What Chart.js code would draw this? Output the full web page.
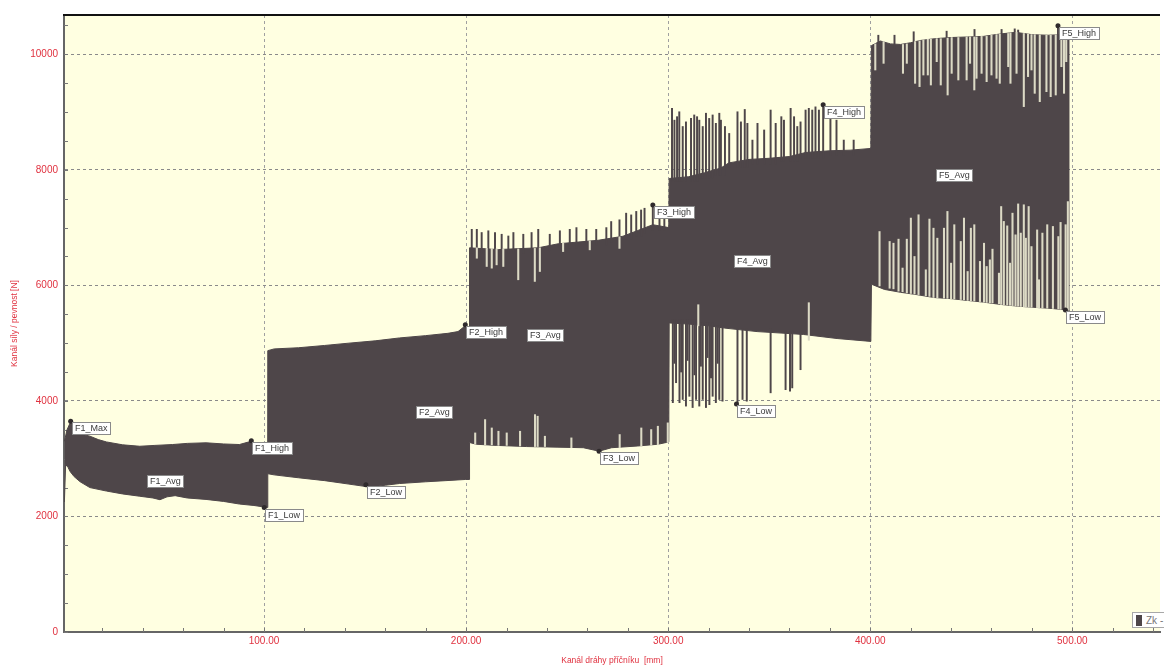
<!DOCTYPE html>
<html>
<head>
<meta charset="utf-8">
<script src="https://cdn.jsdelivr.net/npm/chart.js@4/dist/chart.umd.min.js"></script>
<style>
  html, body { margin: 0; padding: 0; background: #fff; overflow: hidden; }
  #wrap { position: relative; width: 1164px; height: 666px; }
  #legend {
    position: absolute; left: 1132px; top: 612px; height: 14px; padding: 0 3px;
    border: 1px solid #a8a8a8; background: #fff; white-space: nowrap;
    font: 10px 'Liberation Sans', Arial, sans-serif; color: #777;
    display: flex; align-items: center;
  }
  #legend i { display: inline-block; width: 6px; height: 11px; background: #4e4649; margin-right: 4px; }
</style>
</head>
<body>
<div id="wrap">
  <canvas id="chart"></canvas>
  <div id="legend"><i></i>Zk - 1</div>
</div>
<script>
// axis ticks (minor every 20 mm / 500 N, labelled every 100 mm / 2000 N)
const xTicks = [20, 40, 60, 80, 100, 120, 140, 160, 180, 200, 220, 240, 260, 280, 300,
                320, 340, 360, 380, 400, 420, 440, 460, 480, 500, 520, 540];
const yTicks = [0, 500, 1000, 1500, 2000, 2500, 3000, 3500, 4000, 4500, 5000, 5500,
                6000, 6500, 7000, 7500, 8000, 8500, 9000, 9500, 10000, 10500];

// upper and lower edge of the force band  [mm, N]
const upperEdge = [
  [1.2, 3300], [2.5, 3500], [4.3, 3640], [6, 3520], [9, 3430], [13.8, 3390], [18, 3330],
  [22, 3290], [30, 3240], [38.5, 3215], [46, 3230], [54.7, 3245], [62, 3265], [71.3, 3275],
  [80, 3255], [87.8, 3245], [93.5, 3300], [97, 3250], [101.7, 3215],
  [101.85, 4870], [105, 4900], [117, 4920], [130, 4960], [142, 5000], [155, 5040], [167, 5090],
  [180, 5130], [191, 5170], [196, 5200], [199.6, 5300], [201.5, 5250],
  [201.7, 6650], [216, 6620], [235.7, 6650], [245.6, 6720], [265.3, 6780], [277.6, 6850],
  [285, 6950], [292.4, 7050], [300.3, 7000],
  [300.5, 7850], [310, 7880], [318, 7950], [326, 8030], [330, 8120], [340, 8180], [350, 8200],
  [360, 8230], [368, 8300], [380, 8330], [390, 8340], [400.3, 8370],
  [400.6, 10150], [405, 10230], [410, 10180], [415, 10170], [420, 10200], [425, 10240],
  [432, 10270], [440, 10290], [448, 10300], [456, 10310], [464, 10350], [472, 10380],
  [480, 10340], [488, 10330], [495, 10340], [498.7, 10300]
];
const lowerEdge = [
  [1.2, 2250], [1.8, 2900], [3, 2850], [4, 2780], [6, 2690], [9, 2600], [13.8, 2500],
  [22, 2440], [30, 2390], [38.5, 2350], [45, 2320], [48.5, 2290], [52, 2340], [56, 2360],
  [62, 2320], [71.3, 2295], [80, 2260], [87.8, 2215], [95, 2190], [101.7, 2155],
  [101.85, 2740], [105, 2720], [117, 2670], [130, 2620], [142, 2560], [152, 2510], [160, 2540],
  [167, 2570], [180, 2600], [190, 2620], [199.6, 2640], [201.5, 2640],
  [201.7, 3280], [205, 3250], [215, 3230], [230, 3210], [245, 3200], [258, 3190], [265.8, 3130],
  [272, 3190], [285, 3220], [295, 3250], [300.3, 3290],
  [300.5, 5350], [310, 5330], [320, 5300], [328, 5260], [344, 5200], [358, 5170], [367, 5150],
  [383.6, 5080], [400.3, 5030],
  [400.6, 6020], [407, 5930], [415, 5880], [423, 5840], [431.5, 5790], [440, 5770], [448, 5740],
  [456, 5710], [464.5, 5670], [473, 5640], [481, 5620], [490, 5600], [496.6, 5575], [498.7, 5560]
];

// single cycles sticking out of the band  [mm, from N, to N]
const f3Peaks = [
  [202.8, 6550, 6970], [205.3, 6550, 6970], [207.7, 6550, 6915], [211.0, 6550, 6945],
  [214.3, 6550, 6915], [217.6, 6550, 6885], [220.9, 6550, 6855], [223.4, 6550, 6915],
  [228.3, 6550, 6885], [232.4, 6550, 6915], [235.7, 6550, 6970], [241.4, 6600, 6885],
  [246.4, 6650, 6945], [251.3, 6650, 6970], [254.6, 6650, 7000], [259.5, 6700, 6970],
  [264.4, 6700, 6970], [269.4, 6700, 7000], [271.8, 6750, 7105], [275.9, 6750, 7135],
  [279.2, 6800, 7250], [281.7, 6800, 7220], [284.2, 6850, 7280], [286.6, 6850, 7305],
  [288.3, 6900, 7335], [292.4, 6950, 7390], [295.7, 6950, 7220], [298.1, 6950, 7280]
];
const f4Peaks = [
  [301.9, 7800, 9065], [303.1, 7800, 8860], [304.4, 7800, 8920], [305.5, 7800, 9005],
  [307.2, 7800, 8750], [308.8, 7800, 8830], [311.3, 7800, 8890], [312.9, 7800, 8950],
  [314.3, 7800, 8920], [315.4, 7850, 8860], [317.1, 7850, 8750], [318.7, 7850, 8980],
  [320.3, 7850, 8890], [322.0, 7850, 8950], [323.6, 7900, 8805], [325.3, 7900, 8980],
  [326.1, 7900, 8860], [328.1, 7900, 8750], [330.2, 8050, 8630], [334.3, 8050, 9005],
  [336.0, 8050, 8830], [337.9, 8050, 9045], [339.2, 8050, 8805], [341.7, 8100, 8515],
  [344.2, 8100, 8805], [347.5, 8100, 8690], [350.7, 8100, 9035], [353.2, 8100, 8805],
  [356.0, 8150, 8920], [357.3, 8150, 8860], [360.6, 8150, 9065], [362.3, 8150, 8920],
  [363.9, 8150, 8750], [365.5, 8200, 8830], [368.0, 8200, 9035], [369.6, 8200, 9065],
  [371.3, 8200, 9035], [372.9, 8200, 9090], [374.6, 8200, 9035], [376.7, 8200, 9125],
  [380.3, 8250, 8890], [383.3, 8250, 8860], [386.9, 8250, 8515], [391.8, 8250, 8515]
];
const f4Dips = [
  [302.3, 3970, 5400], [303.1, 4650, 5400], [303.9, 4315, 5400], [305.6, 3970, 5400],
  [306.4, 4500, 5400], [307.2, 4025, 5400], [308.8, 3910, 5400], [309.6, 4700, 5400],
  [310.5, 4080, 5400], [312.1, 3885, 5400], [313.0, 4450, 5400], [313.8, 4025, 5400],
  [315.4, 3910, 5350], [316.2, 4600, 5350], [317.1, 4025, 5350], [318.7, 3885, 5350],
  [319.5, 4750, 5350], [320.4, 3935, 5350], [321.2, 4400, 5350], [322.0, 4080, 5350],
  [323.6, 3970, 5300], [324.5, 4650, 5300], [325.3, 4025, 5300], [326.9, 3995, 5300],
  [334.3, 3970, 5250], [336.8, 4025, 5250], [338.9, 3995, 5250], [350.7, 4140, 5250],
  [358.1, 4195, 5200], [360.3, 4170, 5200], [361.4, 4225, 5200], [365.5, 4540, 5200]
];
const f5Peaks = [
  [404.0, 10100, 10330], [412.0, 10100, 10330], [421.5, 10150, 10390], [437.8, 10200, 10400],
  [451.6, 10200, 10430], [465.0, 10250, 10430], [471.5, 10250, 10440], [473.2, 10250, 10420],
  [492.9, 10250, 10490]
];

// cycles that stay inside the band (light gaps)  [mm, from N, to N]
const f3Gaps = [
  [205.3, 6470, 6650], [210.2, 6327, 6640], [212.7, 6298, 6640], [215.1, 6355, 6630],
  [218.4, 6327, 6630], [225.8, 6097, 6630], [234.0, 6068, 6640], [236.5, 6240, 6650],
  [248.0, 6585, 6730], [261.2, 6615, 6770], [275.9, 6640, 6840],
  [204.5, 3250, 3446], [209.4, 3240, 3677], [212.7, 3240, 3532], [216.0, 3230, 3475],
  [220.1, 3230, 3446], [226.7, 3220, 3475], [234.1, 3210, 3763], [235.4, 3210, 3735],
  [239.0, 3210, 3389], [252.1, 3190, 3360], [276.0, 3190, 3418], [286.7, 3210, 3532],
  [291.6, 3230, 3504], [294.9, 3240, 3562], [299.8, 3280, 3620]
];
const f4Gaps = [[314.9, 5300, 5665], [369.6, 5050, 5700]];
const f5Gaps = [
  [402.5, 9728, 10180], [406.6, 9843, 10220], [416.2, 9670, 10170], [418.1, 9843, 10180],
  [422.2, 9497, 10220], [424.4, 9440, 10230], [426.3, 9641, 10250], [428.5, 9641, 10260],
  [430.0, 9468, 10260], [432.9, 9872, 10270], [434.9, 9468, 10270], [438.3, 9295, 10280],
  [440.3, 9670, 10290], [443.6, 9555, 10290], [447.7, 9555, 10300], [449.4, 9843, 10300],
  [451.5, 9382, 10300], [452.6, 9584, 10300], [455.1, 9670, 10310], [457.6, 9526, 10310],
  [460.0, 9641, 10330], [462.5, 9584, 10340], [464.1, 9497, 10350], [468.3, 9785, 10360],
  [469.4, 9497, 10370], [472.4, 9670, 10380], [476.0, 9094, 10360], [478.1, 9613, 10350],
  [479.8, 9728, 10340], [481.4, 9324, 10340], [483.9, 9180, 10335], [487.2, 9353, 10330],
  [489.3, 9266, 10330], [491.8, 9295, 10335], [494.6, 9785, 10340], [495.9, 9324, 10335],
  [497.0, 9872, 10320],
  [404.6, 5990, 6932], [409.6, 5950, 6760], [411.5, 5940, 6730], [414.0, 5900, 6800],
  [416.0, 5890, 6300], [418.1, 5870, 6800], [420.1, 5860, 7165], [421.9, 5850, 6500],
  [423.9, 5840, 7222], [427.5, 5820, 6270], [429.3, 5810, 7148], [431.3, 5790, 6990],
  [433.2, 5785, 6817], [436.5, 5780, 6990], [438.2, 5775, 7280], [440.0, 5770, 6385],
  [441.6, 5765, 7050], [444.8, 5755, 6760], [446.4, 5750, 7165], [448.2, 5740, 6240],
  [449.8, 5735, 6990], [451.5, 5730, 7050], [454.3, 5720, 6415], [456.3, 5710, 6730],
  [457.6, 5705, 6327], [459.2, 5700, 6442], [460.5, 5695, 6627], [463.7, 5680, 6212],
  [464.8, 5670, 7365], [466.1, 5665, 7107], [467.8, 5660, 7030], [469.2, 5655, 6385],
  [470.4, 5650, 7250], [471.9, 5645, 6875], [473.2, 5640, 7410], [474.5, 5635, 6905],
  [476.0, 5630, 7395], [477.0, 5628, 6817], [478.4, 5625, 7365], [479.8, 5622, 6672],
  [482.6, 5615, 6960], [483.5, 5612, 6097], [485.2, 5608, 6905], [487.6, 5605, 7050],
  [490.4, 5600, 7020], [493.1, 5590, 6845], [494.2, 5585, 7090], [496.7, 5575, 7050],
  [497.8, 5570, 7450]
];

// evaluation markers
const markerNames = ['F1_Max', 'F1_Avg', 'F1_High', 'F1_Low',
                     'F2_High', 'F2_Avg', 'F2_Low',
                     'F3_High', 'F3_Avg', 'F3_Low',
                     'F4_High', 'F4_Avg', 'F4_Low',
                     'F5_High', 'F5_Avg', 'F5_Low'];
const markerX = [4.3, 50.8, 93.7, 100.1, 199.6, 184, 150.4, 292.4, 239.2, 265.8,
                 376.7, 341.7, 333.8, 492.9, 441.6, 496.6];
const markerY = [3650, 2620, 3310, 2155, 5320, 3810, 2550, 7393, 5140, 3129,
                 9127, 6425, 3948, 10492, 7917, 5575];

const dark = '#4e4649';
const light = '#dcdac5';
const red = '#e0313f';
const tickFont = { family: "'Liberation Sans', Arial, sans-serif", size: 10 };
const titleFont = { family: "'Liberation Sans', Arial, sans-serif", size: 8.5 };

const toXY = a => a.map(p => ({ x: p[0], y: p[1] }));
const toBar = a => a.map(p => ({ x: p[0], y: [p[1], p[2]] }));
const dots = markerNames
  .map((n, i) => ({ n, x: markerX[i], y: markerY[i] }))
  .filter(m => !m.n.endsWith('_Avg'))
  .map(m => ({ x: m.x, y: m.y }));

const frame = {
  id: 'frame',
  beforeDraw(chart) {
    const { ctx, chartArea: a } = chart;
    ctx.save();
    ctx.fillStyle = '#ffffe1';
    ctx.fillRect(a.left, a.top, a.right - a.left, a.bottom - a.top);
    ctx.restore();
  },
  beforeDatasetsDraw(chart) {
    const { ctx, chartArea: a, scales: { x, y } } = chart;
    ctx.save();
    ctx.strokeStyle = '#777';
    ctx.lineWidth = 1;
    ctx.beginPath();
    yTicks.forEach(v => {
      const py = Math.round(y.getPixelForValue(v)) + 0.5;
      ctx.moveTo(a.left, py);
      ctx.lineTo(a.left + 4, py);
    });
    xTicks.forEach(v => {
      const px = Math.round(x.getPixelForValue(v)) + 0.5;
      ctx.moveTo(px, a.bottom);
      ctx.lineTo(px, a.bottom - 4);
    });
    ctx.stroke();
    ctx.restore();
  },
  afterDatasetsDraw(chart) {
    const { ctx, scales: { x, y } } = chart;
    ctx.save();
    ctx.font = "9px 'Liberation Sans', Arial, sans-serif";
    ctx.textBaseline = 'middle';
    markerNames.forEach((name, i) => {
      const px = x.getPixelForValue(markerX[i]);
      const py = y.getPixelForValue(markerY[i]);
      const w = Math.ceil(ctx.measureText(name).width) + 5;
      const h = 12;
      const avg = name.endsWith('_Avg');
      const left = Math.round(avg ? px - w / 2 : px + 1) + 0.5;
      const top = Math.round(avg ? py - h / 2 : py + 1) + 0.5;
      ctx.fillStyle = '#fff';
      ctx.fillRect(left, top, w, h);
      ctx.strokeStyle = '#8a8a8a';
      ctx.lineWidth = 1;
      ctx.strokeRect(left, top, w, h);
      ctx.fillStyle = '#3a3a3a';
      ctx.fillText(name, left + 2.5, top + h / 2 + 0.5);
    });
    ctx.restore();
  },
  afterDraw(chart) {
    const { ctx, chartArea: a } = chart;
    ctx.save();
    ctx.strokeStyle = '#111';
    ctx.lineWidth = 2;
    ctx.beginPath();
    ctx.moveTo(a.left - 1, a.top);
    ctx.lineTo(a.right, a.top);
    ctx.stroke();
    ctx.restore();
  }
};

new Chart(document.getElementById('chart'), {
  type: 'line',
  data: {
    datasets: [
      { label: 'upper', data: toXY(upperEdge), borderColor: dark, borderWidth: 1,
        pointRadius: 0, fill: false, tension: 0, order: 6 },
      { label: 'lower', data: toXY(lowerEdge), borderColor: dark, backgroundColor: dark,
        borderWidth: 1, pointRadius: 0, fill: '-1', tension: 0, order: 5 },
      { type: 'bar', label: 'peaks', data: toBar([...f3Peaks, ...f4Peaks, ...f4Dips, ...f5Peaks]),
        backgroundColor: dark, barThickness: 1.3, grouped: false, order: 4 },
      { type: 'bar', label: 'gaps', data: toBar([...f3Gaps, ...f4Gaps, ...f5Gaps]),
        backgroundColor: light, barThickness: 1.4, grouped: false, order: 3 },
      { type: 'scatter', label: 'markers', data: dots, pointRadius: 2.5,
        pointBackgroundColor: '#2f2a2c', pointBorderWidth: 0, order: 1 }
    ]
  },
  options: {
    responsive: true,
    maintainAspectRatio: false,
    animation: false,
    events: [],
    layout: { padding: { top: 15, right: 0, bottom: 0, left: 0 } },
    plugins: { legend: { display: false }, tooltip: { enabled: false } },
    scales: {
      x: {
        type: 'linear', min: 1, max: 543.4, offset: false,
        afterBuildTicks: s => { s.ticks = xTicks.map(v => ({ value: v })); },
        afterFit: s => { s.height = 34; },
        ticks: {
          autoSkip: false, maxRotation: 0, padding: 3, color: red, font: tickFont,
          callback: v => (v % 100 === 0 ? v.toFixed(2) : '')
        },
        grid: {
          offset: false, drawTicks: false, lineWidth: 1,
          color: c => (c.tick && c.tick.value % 100 === 0 ? '#a0a0a0' : 'rgba(0,0,0,0)')
        },
        border: { display: true, color: '#666', width: 2, dash: [3, 3] },
        title: { display: true, text: 'Kanál dráhy příčníku  [mm]', color: red,
                 font: titleFont, padding: { top: 0, bottom: 0 } }
      },
      y: {
        type: 'linear', min: 0, max: 10680,
        afterBuildTicks: s => { s.ticks = yTicks.map(v => ({ value: v })); },
        afterFit: s => { s.width = 64; },
        ticks: {
          autoSkip: false, padding: 6, color: red, font: tickFont,
          callback: v => (v % 2000 === 0 ? String(v) : '')
        },
        grid: {
          drawTicks: false, lineWidth: 1,
          color: c => (c.tick && c.tick.value % 2000 === 0 && c.tick.value > 0 ? '#8a8a8a' : 'rgba(0,0,0,0)')
        },
        border: { display: true, color: '#666', width: 2, dash: [3, 3] },
        title: { display: true, text: 'Kanál síly / pevnost [N]', color: red,
                 font: titleFont, padding: { top: 10, bottom: 0 } }
      }
    }
  },
  plugins: [frame]
});
</script>
</body>
</html>
